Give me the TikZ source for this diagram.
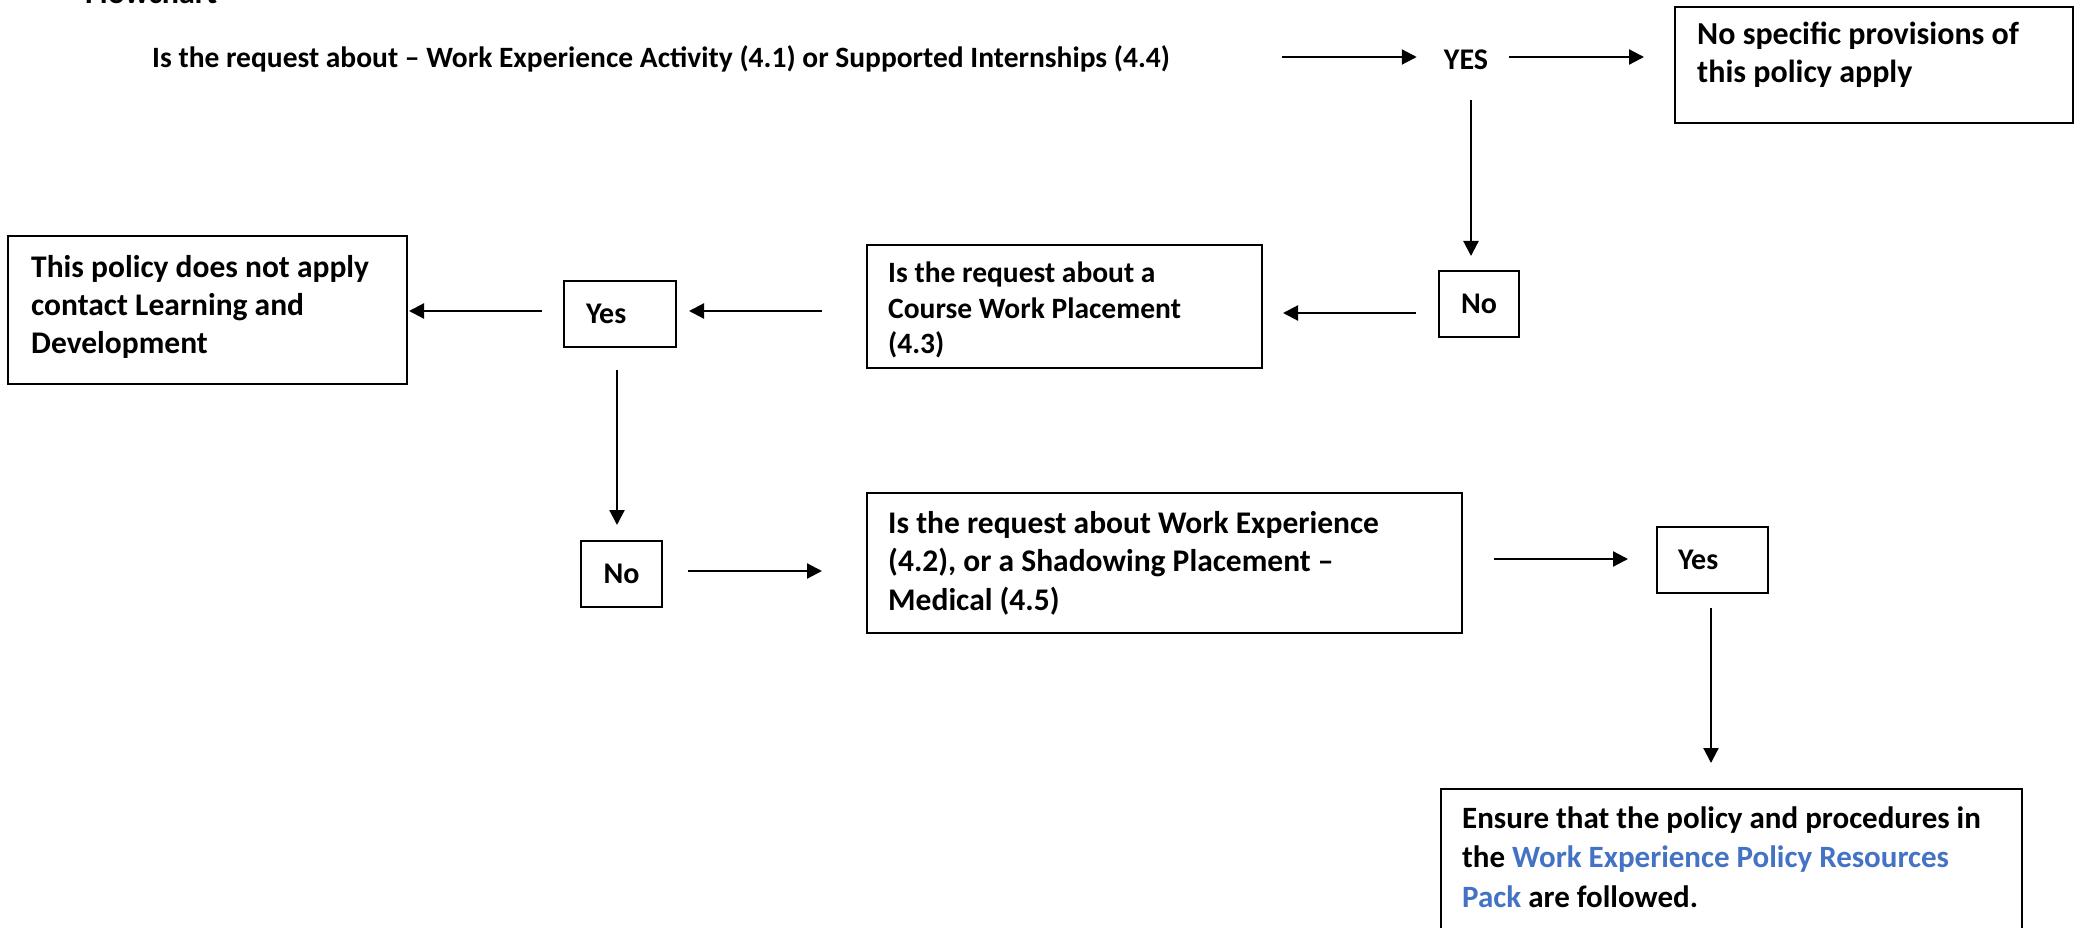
\documentclass[tikz,border=0pt]{standalone}
\usepackage{fontspec}
\setmainfont{Carlito}
\usetikzlibrary{arrows.meta}
\definecolor{linkblue}{RGB}{68,114,196}
\newcommand{\fs}[2]{\fontsize{#1}{#2}\selectfont}
\begin{document}
\begin{tikzpicture}[x=1pt,y=-1pt,
  box/.style={draw, line width=2pt, inner sep=0pt},
  lbl/.style={inner sep=0pt, font=\bfseries\fs{30}{35}},
  txt/.style={inner sep=0pt, anchor=base west},
  arr/.style={line width=2.2pt, -{Triangle[length=15pt,width=15pt]}}]
\useasboundingbox (0,0) rectangle (2081,928);
\clip (0,0) rectangle (2081,928);

% title (cut off at top)
\node[txt, font=\bfseries\fs{32}{38}] (title) at (85,4) {Flowchart};

% first question
\node[txt, font=\bfseries\fs{29.5}{34}] (q1) at (152,68) {Is the request about -- Work Experience Activity (4.1) or Supported Internships (4.4)};
\coordinate (q1end) at (1282,57);
\node[lbl, minimum width=44pt, minimum height=18pt] (yes1) at (1466,60) {YES};

% boxes
\node[box, minimum width=398pt, minimum height=116pt] (r1) at (1874,65) {};
\node[box, lbl, minimum width=80pt, minimum height=66pt] (no1) at (1479,304) {No};
\node[box, minimum width=395pt, minimum height=123pt] (course) at (1064.5,306.5) {};
\node[box, lbl, minimum width=112pt, minimum height=66pt, text width=68pt, align=left, inner xsep=22pt] (yes2) at (620,314) {Yes};
\node[box, minimum width=399pt, minimum height=148pt] (leftb) at (207.5,310) {};
\node[box, lbl, minimum width=81pt, minimum height=66pt] (no2) at (621.5,574) {No};
\node[box, minimum width=595pt, minimum height=140pt] (we) at (1164.5,563) {};
\node[box, lbl, minimum width=111pt, minimum height=66pt, text width=69pt, align=left, inner xsep=21pt] (yes3) at (1712.5,560) {Yes};
\node[box, minimum width=581pt, minimum height=180pt] (final) at (1731.5,879) {};

% box texts
\node[txt, font=\bfseries\fs{32}{38}] (r1t) at (1697,45) {\parbox[t]{370pt}{\raggedright No specific provisions of\\this policy apply}};
\node[txt, font=\bfseries\fs{29.5}{35.5}] (coursetx) at (888,283) {\parbox[t]{370pt}{\raggedright Is the request about a\\Course Work Placement\\(4.3)}};
\node[txt, font=\bfseries\fs{31.5}{37.5}] (leftt) at (31,278) {\parbox[t]{375pt}{\raggedright This policy does not apply\\contact Learning and\\Development}};
\node[txt, font=\bfseries\fs{31.5}{38.5}] (wetx) at (888,533) {\parbox[t]{570pt}{\raggedright Is the request about Work Experience\\(4.2), or a Shadowing Placement --\\Medical (4.5)}};
\node[txt, font=\bfseries\fs{31}{39.5}] (fintx) at (1462,828) {\parbox[t]{555pt}{\raggedright Ensure that the policy and procedures in\\the \textcolor{linkblue}{Work Experience Policy Resources}\\\textcolor{linkblue}{Pack} are followed.}};

% connectors
\draw[arr, shorten >=27pt] (q1end) -- ([yshift=3pt]yes1.west);
\draw[arr, shorten <=21pt, shorten >=30pt] ([yshift=3pt]yes1.east) -- ([yshift=8pt]r1.west);
\draw[arr, shorten <=30pt, shorten >=14pt] ([xshift=5pt]yes1.south) -- ([xshift=-8pt]no1.north);
\draw[arr, shorten <=22pt, shorten >=20pt] ([yshift=-9pt]no1.west) -- ([yshift=-6.5pt]course.east);
\draw[arr, shorten <=44pt, shorten >=12pt] ([yshift=-4.5pt]course.west) -- ([yshift=3pt]yes2.east);
\draw[arr, shorten <=21pt, shorten >=1pt] ([yshift=3pt]yes2.west) -- ([yshift=-1pt]leftb.east);
\draw[arr, shorten <=22pt, shorten >=15pt] ([xshift=-3pt]yes2.south) -- ([xshift=-4.5pt]no2.north);
\draw[arr, shorten <=25pt, shorten >=44pt] ([yshift=3pt]no2.east) -- ([yshift=-8pt]we.west);
\draw[arr, shorten <=31pt, shorten >=28pt] ([yshift=4pt]we.east) -- ([yshift=1pt]yes3.west);
\draw[arr, shorten <=14pt, shorten >=25pt] ([xshift=-1.5pt]yes3.south) -- ([xshift=-20.5pt]final.north);
\end{tikzpicture}
\end{document}
